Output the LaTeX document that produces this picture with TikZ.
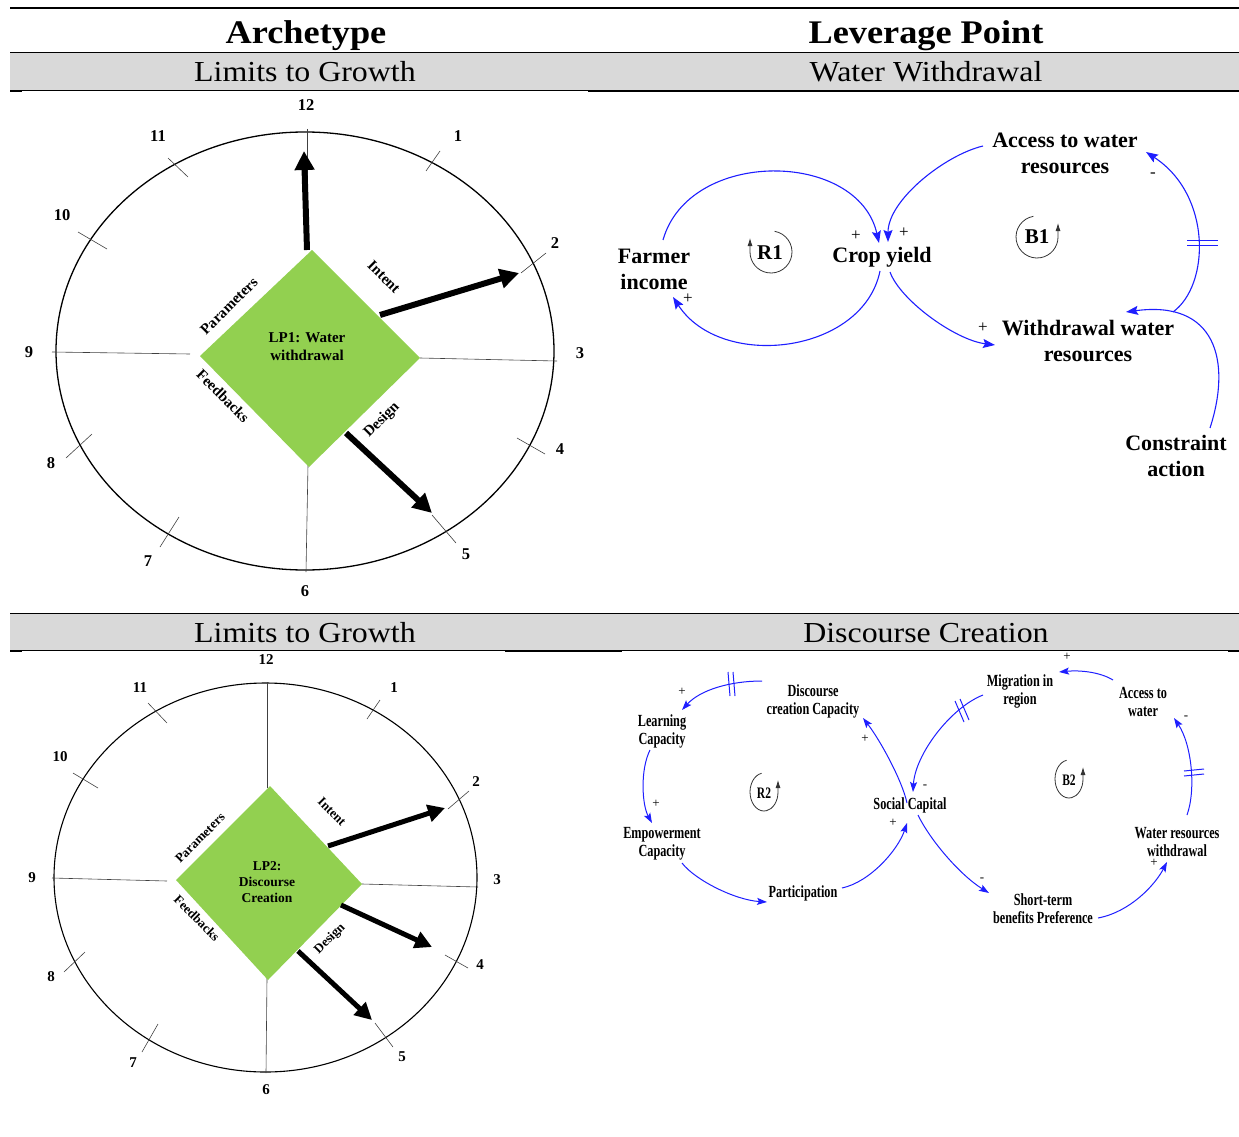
\documentclass[tikz,border=0pt]{standalone}
\usepackage{fontspec}
\setmainfont{Liberation Serif}
\newfontfamily\hdfont{Liberation Serif}[FakeStretch=1.1]
\newfontfamily\cdfont{Liberation Serif}[FakeStretch=0.72]
\usetikzlibrary{arrows.meta}
\definecolor{lpgreen}{RGB}{146,208,80}
\definecolor{bandgray}{RGB}{217,217,217}
\definecolor{cldblue}{RGB}{30,30,255}
\begin{document}
\begin{tikzpicture}[x=1pt,y=-1pt,
  hd/.style={font=\hdfont\bfseries\fontsize{33}{36}\selectfont, inner sep=0},
  sub/.style={font=\hdfont\fontsize{29}{32}\selectfont, inner sep=0},
  numA/.style={font=\bfseries\fontsize{16.5}{17}\selectfont, inner sep=0},
  numB/.style={font=\bfseries\fontsize{15}{16}\selectfont, inner sep=0},
  sideA/.style={font=\bfseries\fontsize{15}{16}\selectfont, inner sep=0},
  sideB/.style={font=\bfseries\fontsize{13}{14}\selectfont, inner sep=0},
  lpA/.style={font=\bfseries\fontsize{15}{18}\selectfont, align=center, inner sep=0},
  lpB/.style={font=\bfseries\fontsize{13.5}{16}\selectfont, align=center, inner sep=0},
  rimA/.style={line width=1.3pt},
  rimB/.style={line width=1.1pt},
  spoke/.style={line width=0.6pt, black!75},
  tick/.style={line width=0.6pt, black!75},
  bigA/.style={line width=6pt, -{Triangle[length=19pt,width=19pt]}},
  bigB/.style={line width=5pt, -{Triangle[length=17pt,width=17pt]}},
  cldt/.style={font=\bfseries\fontsize{22}{26}\selectfont, align=center, inner sep=0},
  cdt/.style={font=\cdfont\bfseries\fontsize{17}{18}\selectfont, align=center, inner sep=0},
  linkA/.style={cldblue, line width=1.1pt, -{Stealth[length=12pt,width=9pt,inset=2pt]}},
  linkB/.style={cldblue, line width=1pt, -{Stealth[length=10pt,width=7pt,inset=2pt]}},
  delay/.style={cldblue, line width=1pt},
  polA/.style={font=\fontsize{17}{17}\selectfont, inner sep=0},
  polB/.style={font=\fontsize{13}{13}\selectfont, inner sep=0},
  loopsym/.style={line width=0.8pt, black!80, -{Latex[length=8pt,width=5pt]}},
  looplbA/.style={font=\bfseries\fontsize{21}{21}\selectfont, inner sep=0},
  looplbB/.style={font=\cdfont\bfseries\fontsize{16}{16}\selectfont, inner sep=0}
]
\useasboundingbox (0,0) rectangle (1239,1137);

% ---------- header bands ----------
\fill[bandgray] (10,53) rectangle (1239,90);
\fill[bandgray] (10,614) rectangle (1239,650);
\draw[line width=2.5pt] (10,8) -- (1239,8);
\draw[line width=0.9pt] (10,52.5) -- (1239,52.5);
\draw[line width=0.9pt] (10,90.5) -- (1239,90.5);
\draw[line width=2pt] (10,91) -- (22,91) (588,91) -- (1239,91);
\draw[line width=0.9pt] (10,613.5) -- (1239,613.5);
\draw[line width=0.9pt] (10,650.5) -- (1239,650.5);
\draw[line width=2pt] (10,651) -- (22,651) (505,651) -- (622,651) (1228,651) -- (1239,651);

\node[hd, anchor=base] (hA) at (306,44) {Archetype};
\node[hd, anchor=base] (hL) at (926,44) {Leverage Point};
\node[sub, anchor=base] (s1) at (305,82) {Limits to Growth};
\node[sub, anchor=base] (s2) at (926,82) {Water Withdrawal};
\node[sub, anchor=base] (s3) at (305,642) {Limits to Growth};
\node[sub, anchor=base] (s4) at (926,642) {Discourse Creation};

% ---------- clock 1 ----------
\draw[rimA] (305,351) ellipse[x radius=249, y radius=219];
\draw[spoke] (307,129) -- (307,250);
\draw[spoke] (52,352) -- (190,354);
\draw[spoke] (420,358) -- (557,361);
\draw[spoke] (308,465) -- (306,572);
\draw[tick] (168,158) -- (188,177);
\draw[tick] (440,151) -- (426,171);
\draw[tick] (78,232) -- (107,249);
\draw[tick] (546,253) -- (521,273);
\draw[tick] (92,434) -- (66,458);
\draw[tick] (517,438) -- (545,454);
\draw[tick] (179,517) -- (160,547);
\draw[tick] (432,515) -- (456,543);
\fill[lpgreen] (312,250) -- (420,358) -- (309,467) -- (200,356) -- cycle;
\node[lpA] (lp1) at (307,347) {LP1: Water\\withdrawal};
\node[numA] (n12a) at (306,105) {12};
\node[numA] (n11a) at (158,136) {11};
\node[numA] (n1a) at (458,136) {1};
\node[numA] (n10a) at (62,215) {10};
\node[numA] (n2a) at (555,243) {2};
\node[numA] (n9a) at (29,352) {9};
\node[numA] (n3a) at (580,353) {3};
\node[numA] (n8a) at (51,463) {8};
\node[numA] (n4a) at (560,449) {4};
\node[numA] (n7a) at (148,561) {7};
\node[numA] (n5a) at (466,554) {5};
\node[numA] (n6a) at (305,591) {6};
\node[sideA, rotate=-45] (inA) at (384,277) {Intent};
\node[sideA, rotate=45] (paA) at (229,306) {Parameters};
\node[sideA, rotate=-45] (feA) at (223,396) {Feedbacks};
\node[sideA, rotate=45] (deA) at (382,420) {Design};
\coordinate (a1s) at (307,250); \coordinate (a1e) at (304,151);
\coordinate (a2s) at (380,315); \coordinate (a2e) at (519,273);
\coordinate (a3s) at (346,433); \coordinate (a3e) at (432,513);
\draw[bigA] (a1s) -- (a1e);
\draw[bigA] (a2s) -- (a2e);
\draw[bigA] (a3s) -- (a3e);

% ---------- clock 2 ----------
\draw[rimB] (265.5,877.5) ellipse[x radius=211.5, y radius=194.5];
\draw[spoke] (267,682) -- (267,788);
\draw[spoke] (52,878) -- (167,881);
\draw[spoke] (362,884) -- (478,887);
\draw[spoke] (267,978) -- (266,1073);
\draw[tick] (148,703) -- (167,723);
\draw[tick] (380,700) -- (367,719);
\draw[tick] (73,773) -- (98,788);
\draw[tick] (469,791) -- (448,809);
\draw[tick] (85,952) -- (64,972);
\draw[tick] (445,955) -- (468,968);
\draw[tick] (158,1024) -- (142,1052);
\draw[tick] (375,1023) -- (393,1047);
\fill[lpgreen] (270,786) -- (362,884) -- (268,980) -- (176,880) -- cycle;
\node[lpB] (lp2) at (267,882) {LP2:\\Discourse\\Creation};
\node[numB] (n12b) at (266,660) {12};
\node[numB] (n11b) at (140,688) {11};
\node[numB] (n1b) at (394,688) {1};
\node[numB] (n10b) at (60,757) {10};
\node[numB] (n2b) at (476,782) {2};
\node[numB] (n9b) at (32,878) {9};
\node[numB] (n3b) at (497,880) {3};
\node[numB] (n8b) at (51,977) {8};
\node[numB] (n4b) at (480,965) {4};
\node[numB] (n7b) at (133,1063) {7};
\node[numB] (n5b) at (402,1057) {5};
\node[numB] (n6b) at (266,1090) {6};
\node[sideB, rotate=-45] (inB) at (332,812) {Intent};
\node[sideB, rotate=45] (paB) at (200,838) {Parameters};
\node[sideB, rotate=-45] (feB) at (197,918) {Feedbacks};
\node[sideB, rotate=45] (deB) at (330,939) {Design};
\coordinate (b1s) at (328,846); \coordinate (b1e) at (445,808);
\coordinate (b2s) at (341,905); \coordinate (b2e) at (432,947);
\coordinate (b3s) at (298,951); \coordinate (b3e) at (372,1020);
\draw[bigB] (b1s) -- (b1e);
\draw[bigB] (b2s) -- (b2e);
\draw[bigB] (b3s) -- (b3e);

% ---------- CLD 1 ----------
\node[cldt] (acc) at (1065,153) {Access to water\\resources};
\node[cldt] (far) at (654,269) {Farmer\\income};
\node[cldt] (crop) at (882,257) {Crop yield};
\node[cldt] (wd) at (1088,341) {Withdrawal water\\resources};
\node[cldt] (con) at (1176,456) {Constraint\\action};
\node[looplbA] (r1) at (770,253) {R1};
\node[looplbA] (b1) at (1037,237) {B1};
\draw[loopsym] ([shift={(-80:21)}]771,252) arc[start angle=-80, end angle=180, radius=21] -- ++(0,-14);
\draw[loopsym] ([shift={(-100:21)}]1037,237) arc[start angle=-100, end angle=-360, radius=21] -- ++(0,-14);

\coordinate (l1s) at (663,240); \coordinate (l1e) at (879,243);
\coordinate (l2s) at (880,271); \coordinate (l2e) at (673,297);
\coordinate (l3s) at (983,146); \coordinate (l3e) at (888,242);
\coordinate (l4s) at (890,272); \coordinate (l4e) at (995,345);
\coordinate (l5s) at (1173,312); \coordinate (l5e) at (1146,152);
\coordinate (l6s) at (1210,428); \coordinate (l6e) at (1126,312);
\draw[linkA] (l1s) .. controls (689,148) and (858,150) .. (l1e);
\draw[linkA] (l2s) .. controls (863,354) and (721,371) .. (l2e);
\draw[linkA] (l3s) .. controls (945,155) and (888,200) .. (l3e);
\draw[linkA] (l4s) .. controls (900,300) and (955,340) .. (l4e);
\draw[linkA] (l5s) .. controls (1210,285) and (1212,195) .. (l5e);
\draw[linkA] (l6s) .. controls (1232,360) and (1215,300) .. (l6e);
\draw[delay] (1187,240.5) -- (1218,240.5) (1187,245.5) -- (1218,245.5);
\node[polA] (p1) at (856,236) {+};
\node[polA] (p2) at (688,299) {+};
\node[polA] (p3) at (904,233) {+};
\node[polA] (p4) at (983,328) {+};
\node[polA] (p5) at (1153,175) {-};

% ---------- CLD 2 ----------
\node[cdt] (dc) at (813,701) {Discourse\\creation Capacity};
\node[cdt] (lc) at (662,731) {Learning\\Capacity};
\node[cdt] (ec) at (662,844) {Empowerment\\Capacity};
\node[cdt] (pa) at (803,893) {Participation};
\node[cdt] (sc) at (910,805) {Social Capital};
\node[cdt] (mi) at (1020,691) {Migration in\\region};
\node[cdt] (ac) at (1143,702) {Access to\\water};
\node[cdt] (ww) at (1177,842) {Water resources\\withdrawal};
\node[cdt] (st) at (1043,909) {Short-term\\benefits Preference};
\node[looplbB] (r2) at (764,793) {R2};
\node[looplbB] (b2) at (1069,780) {B2};
\draw[loopsym] ([shift={(-100:14 and 19)}]764,792) arc[start angle=-100, end angle=-360, x radius=14, y radius=19] -- ++(0,-12);
\draw[loopsym] ([shift={(-100:14 and 19)}]1069,779) arc[start angle=-100, end angle=-360, x radius=14, y radius=19] -- ++(0,-12);

\coordinate (m1s) at (762,681); \coordinate (m1e) at (682,710);
\coordinate (m2s) at (650,750); \coordinate (m2e) at (652,823);
\coordinate (m3s) at (682,863); \coordinate (m3e) at (767,902);
\coordinate (m4s) at (842,888); \coordinate (m4e) at (907,823);
\coordinate (m5s) at (907,803); \coordinate (m5e) at (863,718);
\coordinate (m6s) at (983,695); \coordinate (m6e) at (913,792);
\coordinate (m7s) at (918,815); \coordinate (m7e) at (989,893);
\coordinate (m8s) at (1098,918); \coordinate (m8e) at (1167,862);
\coordinate (m9s) at (1187,815); \coordinate (m9e) at (1174,718);
\coordinate (m10s) at (1113,680); \coordinate (m10e) at (1059,672);
\draw[linkB] (m1s) .. controls (730,681) and (700,690) .. (m1e);
\draw[linkB] (m2s) .. controls (640,770) and (642,805) .. (m2e);
\draw[linkB] (m3s) .. controls (695,880) and (735,900) .. (m3e);
\draw[linkB] (m4s) .. controls (870,882) and (898,850) .. (m4e);
\draw[linkB] (m5s) .. controls (902,780) and (880,740) .. (m5e);
\draw[linkB] (m6s) .. controls (950,708) and (915,755) .. (m6e);
\draw[linkB] (m7s) .. controls (930,840) and (960,875) .. (m7e);
\draw[linkB] (m8s) .. controls (1130,912) and (1155,885) .. (m8e);
\draw[linkB] (m9s) .. controls (1196,790) and (1192,745) .. (m9e);
\draw[linkB] (m10s) .. controls (1100,672) and (1080,670) .. (m10e);
\draw[delay] (728,672) -- (730,696) (733,672) -- (735,696);
\draw[delay] (955,701) -- (964,722) (960,699) -- (969,720);
\draw[delay] (1184,771) -- (1204,769) (1184,776) -- (1204,774);
\node[polB] (q1) at (682,692) {+};
\node[polB] (q2) at (656,804) {+};
\node[polB] (q3) at (893,823) {+};
\node[polB] (q4) at (865,739) {+};
\node[polB] (q5) at (925,787) {-};
\node[polB] (q6) at (982,880) {-};
\node[polB] (q7) at (1154,863) {+};
\node[polB] (q8) at (1186,718) {-};
\node[polB] (q9) at (1067,657) {+};
\end{tikzpicture}
\end{document}
